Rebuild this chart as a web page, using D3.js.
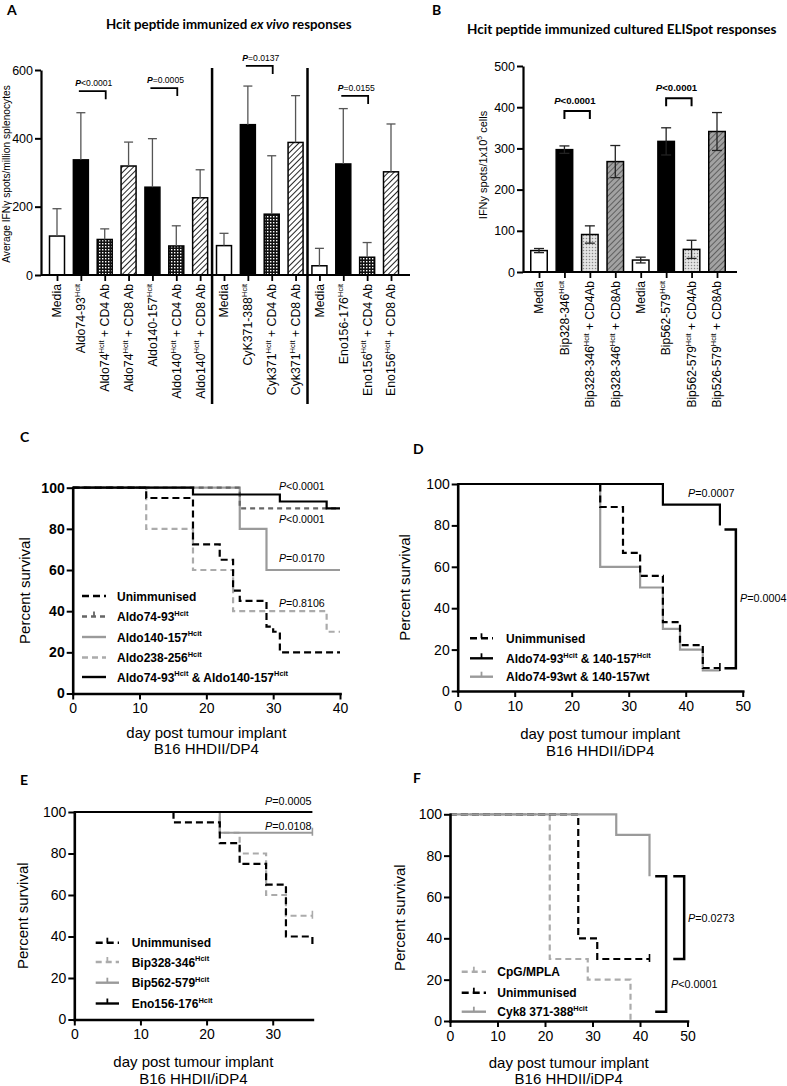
<!DOCTYPE html>
<html lang="en">
<head>
<meta charset="UTF-8">
<title>Hcit peptide responses and tumour survival</title>
<style>
  body { margin: 0; background: #fff; }
  svg { display: block; }
</style>
</head>
<body>
<svg id="fig" width="787" height="1086"></svg>
<script src="https://cdn.jsdelivr.net/npm/d3@7/dist/d3.min.js"></script>
<script>
// ---------- A: ex vivo ELISpot (spots / million splenocytes) ----------
const aLabels = ['Media', 'Aldo74-93^{Hcit}', 'Aldo74^{Hcit} + CD4 Ab', 'Aldo74^{Hcit} + CD8 Ab',
  'Aldo140-157^{Hcit}', 'Aldo140^{Hcit} + CD4 Ab', 'Aldo140^{Hcit} + CD8 Ab',
  'Media', 'CyK371-388^{Hcit}', 'Cyk371^{Hcit} + CD4 Ab', 'Cyk371^{Hcit} + CD8 Ab',
  'Media', 'Eno156-176^{Hcit}', 'Eno156^{Hcit} + CD4 Ab', 'Eno156^{Hcit} + CD8 Ab'];
const aKinds = ['media', 'hcit', 'cd4', 'cd8', 'hcit', 'cd4', 'cd8',
  'media', 'hcit', 'cd4', 'cd8', 'media', 'hcit', 'cd4', 'cd8'];
const aMeans = [114, 337, 104, 319, 257, 85, 226, 86, 440, 178, 388, 27, 325, 52, 302];
const aSD = [80, 138, 31, 70, 142, 59, 82, 36, 113, 171, 137, 51, 162, 43, 140];
const aTicks = [0, 200, 400, 600];
const aDividers = [6, 10];            // a line after these bars
const aPairs = [[1, 2], [4, 5], [8, 9], [12, 13]];
const aPvals = ['<0.0001', '=0.0005', '=0.0137', '=0.0155'];
const aLevels = [538, 547, 612, 524];

// ---------- B: cultured ELISpot (spots / 1x10^5 cells) ----------
const bLabels = ['Media', 'Bip328-346^{Hcit}', 'Bip328-346^{Hcit} + CD4Ab', 'Bip328-346^{Hcit} + CD8Ab',
  'Media', 'Bip562-579^{Hcit}', 'Bip562-579^{Hcit} + CD4Ab', 'Bip526-579^{Hcit} + CD8Ab'];
const bKinds = ['media', 'hcit', 'cd4', 'cd8', 'media', 'hcit', 'cd4', 'cd8'];
const bMeans = [52, 297, 91, 268, 29, 317, 55, 341];
const bSD = [5, 9, 21, 39, 7, 33, 22, 46];
const bTicks = [0, 100, 200, 300, 400, 500];
const bPairs = [[1, 2], [5, 6]];
const bPvals = ['<0.0001', '<0.0001'];
const bLevels = [391, 422];

// ---------- survival curves, [day, percent surviving] ----------
const survTicks = [0, 20, 40, 60, 80, 100];

const cUnimm = [[0, 100], [11, 95], [18, 72.5], [22, 65], [24, 50], [25, 45], [29, 32.5], [30, 30], [31, 20], [40, 20]];
const cAldo74 = [[0, 100], [25, 90], [40, 90]];
const cAldo140 = [[0, 100], [25, 80], [29, 60], [40, 60]];
const cAldo238 = [[0, 100], [11, 80], [18, 60], [24, 40], [38, 30], [40, 30]];
const cCombo = [[0, 100], [18, 96.7], [31, 93.3], [38, 90], [40, 90]];
const cPvals = ['<0.0001', '<0.0001', '=0.0170', '=0.8106'];

const dUnimm = [[0, 100], [25, 88.9], [29, 66.7], [32, 55.6], [36, 33.3], [39, 22.2], [43, 11.1], [46, 11.1]];
const dHcit = [[0, 100], [36, 90], [46, 80]];
const dWt = [[0, 100], [25, 60], [32, 50], [36, 30], [39, 20], [43, 10], [46, 10]];
const dPvals = ['=0.0007', '=0.0004'];

const eUnimm = [[0, 100], [15, 95], [22, 85], [25, 75], [29, 65], [32, 40], [36, 35]];
const eBip328 = [[0, 100], [22, 90], [25, 80], [29, 60], [32, 50], [36, 50]];
const eBip562 = [[0, 100], [22, 90], [36, 90]];
const eEno = [[0, 100], [36, 100]];
const ePvals = ['=0.0005', '=0.0108'];

const fCpg = [[0, 100], [21, 30], [29, 20], [38, 0]];
const fUnimm = [[0, 100], [27, 40], [31, 30], [42, 30]];
const fCyk = [[0, 100], [35, 90], [42, 70]];
const fPvals = ['=0.0273', '<0.0001'];

// ---------- drawing ----------
const FF = '"Liberation Sans", Arial, sans-serif';
const HF = 'Lato, "Open Sans", sans-serif';
const svg = d3.select('#fig');
svg.append('rect').attr('width', 787).attr('height', 1086).attr('fill', '#fff');

// fill patterns
const defs = svg.append('defs');
function pattern(id, size, bg, rot) {
  const p = defs.append('pattern').attr('id', id).attr('width', size).attr('height', size)
    .attr('patternUnits', 'userSpaceOnUse');
  if (rot) p.attr('patternTransform', 'rotate(' + rot + ')');
  p.append('rect').attr('width', size).attr('height', size).attr('fill', bg);
  return p;
}
pattern('chk', 3, '#111').append('rect').attr('width', 1.4).attr('height', 1.4).attr('fill', '#fff');
pattern('diag', 4, '#fff', 45).append('line')
  .attr('x1', 0).attr('y1', 0).attr('x2', 0).attr('y2', 4).attr('stroke', '#000').attr('stroke-width', 1.7);
pattern('dots', 3, '#e4e4e4').append('circle').attr('cx', 1.5).attr('cy', 1.5).attr('r', 0.75).attr('fill', '#888');
pattern('diagGray', 4, '#a2a2a2', 45).append('line')
  .attr('x1', 0).attr('y1', 0).attr('x2', 0).attr('y2', 4).attr('stroke', '#3a3a3a').attr('stroke-width', 1.3);

// text with ^{superscript} parts
function rich(t, str, fs) {
  const parts = str.split(/\^\{([^}]*)\}/);
  let up = false;
  parts.forEach((p, k) => {
    if (p === '') return;
    const ts = t.append('tspan').text(p);
    if (k % 2 === 1) {
      ts.attr('font-size', fs * 0.62).attr('dy', up ? 0 : -fs * 0.42);
      up = true;
    } else {
      ts.attr('font-size', fs).attr('dy', up ? fs * 0.42 : 0);
      up = false;
    }
  });
  return t;
}

function pText(x, y, s, fs, boldP, boldRest) {
  const t = svg.append('text').attr('x', x).attr('y', y)
    .attr('font-family', FF).attr('font-size', fs).attr('fill', '#000');
  t.append('tspan').attr('font-style', 'italic').attr('font-weight', boldP ? 'bold' : null).text('P');
  t.append('tspan').attr('font-weight', boldRest ? 'bold' : null).text(s);
}

function letter(s, x, y) {
  svg.append('text').attr('x', x).attr('y', y).attr('font-family', HF)
    .attr('font-weight', 'bold').attr('font-size', 14).text(s);
}

function barPanel(o) {
  const g = svg.append('g');
  const x = d3.scalePoint().domain(d3.range(o.means.length)).range(o.xr);
  const y = d3.scaleLinear().domain([0, o.ymax]).range(o.yr);

  g.selectAll('rect').data(o.means).join('rect')
    .attr('x', (d, i) => x(i) - o.bw / 2).attr('width', o.bw)
    .attr('y', d => y(d)).attr('height', d => y(0) - y(d))
    .attr('fill', (d, i) => o.fills[o.kinds[i]])
    .attr('stroke', '#000').attr('stroke-width', 1.5);

  o.sd.forEach((e, i) => {
    const m = o.means[i];
    const ends = o.both ? [m - e, m + e] : [m + e];
    g.append('line').attr('x1', x(i)).attr('x2', x(i))
      .attr('y1', y(o.both ? m - e : m)).attr('y2', y(m + e))
      .attr('stroke', o.errColor).attr('stroke-width', 1.3);
    ends.forEach(v => g.append('line').attr('x1', x(i) - o.cap).attr('x2', x(i) + o.cap)
      .attr('y1', y(v)).attr('y2', y(v)).attr('stroke', o.errColor).attr('stroke-width', 1.3));
  });

  const ya = g.append('g').attr('transform', `translate(${o.axisX},0)`)
    .call(d3.axisLeft(y).tickValues(o.ticks).tickSize(6).tickSizeOuter(0).tickPadding(2));
  ya.select('.domain').attr('stroke-width', 2.2);
  ya.selectAll('.tick line').attr('stroke-width', 2);
  ya.selectAll('text').attr('font-family', FF).attr('font-size', o.tfs).attr('fill', '#000');

  const xa = g.append('g').attr('transform', `translate(0,${y(0)})`)
    .call(d3.axisBottom(x).tickSize(6).tickFormat(''));
  xa.select('.domain').remove();
  xa.selectAll('.tick line').attr('stroke-width', 1.8);
  g.append('line').attr('x1', o.axisX).attr('x2', o.axisEnd).attr('y1', y(0)).attr('y2', y(0))
    .attr('stroke', '#000').attr('stroke-width', 2.2);

  o.labels.forEach((s, i) => {
    const t = g.append('text')
      .attr('transform', `translate(${x(i) + o.lfs * 0.36},${o.labY}) rotate(-90)`)
      .attr('text-anchor', 'end').attr('font-family', FF).attr('font-size', o.lfs);
    rich(t, s, o.lfs);
  });
  return { x, y, g };
}

// ---------- panel A ----------
letter('A', 7, 15);
const tA = svg.append('text').attr('x', 106).attr('y', 29).attr('font-family', HF)
  .attr('font-weight', 'bold').attr('font-size', 13.3);
tA.append('tspan').text('Hcit peptide immunized ');
tA.append('tspan').attr('font-style', 'italic').text('ex vivo');
tA.append('tspan').text(' responses');

const A = barPanel({
  means: aMeans, sd: aSD, kinds: aKinds, labels: aLabels, ticks: aTicks,
  xr: [57, 391], yr: [275, 70], ymax: 600, bw: 15, cap: 4.5, both: false,
  fills: { media: '#fff', hcit: '#000', cd4: 'url(#chk)', cd8: 'url(#diag)' },
  errColor: '#555', axisX: 41, axisEnd: 410, tfs: 12.5, lfs: 12.3, labY: 284
});
aDividers.forEach(i => {
  const xd = (A.x(i) + A.x(i + 1)) / 2;
  svg.append('line').attr('x1', xd).attr('x2', xd).attr('y1', 68).attr('y2', 404)
    .attr('stroke', '#000').attr('stroke-width', 2.5);
});
aPairs.forEach((p, k) => {
  const yb = A.y(aLevels[k]);
  const x0 = A.x(p[0]) - 2, x1 = A.x(p[1]) + 1;
  svg.append('path').attr('d', `M${x0},${yb}H${x1}V${yb + 8}`).attr('fill', 'none')
    .attr('stroke', '#000').attr('stroke-width', 1.8);
  pText(x0 - 3.5, yb - 5, aPvals[k], 8.6, true, false);
});
svg.append('text').attr('transform', 'translate(10,174) rotate(-90)').attr('text-anchor', 'middle')
  .attr('font-family', FF).attr('font-size', 10.2).text('Average IFNγ spots/million splenocytes');

// ---------- panel B ----------
letter('B', 432, 15);
svg.append('text').attr('x', 467).attr('y', 34).attr('font-family', HF)
  .attr('font-weight', 'bold').attr('font-size', 13.5).text('Hcit peptide immunized cultured ELISpot responses');

const B = barPanel({
  means: bMeans, sd: bSD, kinds: bKinds, labels: bLabels, ticks: bTicks,
  xr: [539, 717], yr: [272, 66], ymax: 500, bw: 16.5, cap: 5, both: true,
  fills: { media: '#fff', hcit: '#000', cd4: 'url(#dots)', cd8: 'url(#diagGray)' },
  errColor: '#222', axisX: 523, axisEnd: 737, tfs: 12.5, lfs: 12, labY: 281
});
bPairs.forEach((p, k) => {
  const yb = B.y(bLevels[k]);
  const x0 = B.x(p[0]), x1 = B.x(p[1]);
  svg.append('path').attr('d', `M${x0},${yb + 8}V${yb}H${x1}V${yb + 8}`).attr('fill', 'none')
    .attr('stroke', '#000').attr('stroke-width', 2);
  pText((x0 + x1) / 2 - 23, yb - 7, bPvals[k], 9.6, true, true);
});
const tB = svg.append('text').attr('transform', 'translate(487,165) rotate(-90)').attr('text-anchor', 'middle')
  .attr('font-family', FF).attr('font-size', 11);
rich(tB, 'IFNy spots/1x10^{5} cells', 11);

// ---------- survival panels ----------
const sty = {
  black: { color: '#000' },
  blackDash: { color: '#000', dash: '7,4' },
  gray: { color: '#9a9a9a' },
  lightDash: { color: '#ababab', dash: '6,4' },
  darkDash: { color: '#666', dash: '5,4' }
};

function survPanel(o) {
  const g = svg.append('g');
  const x = d3.scaleLinear().domain([0, o.tMax]).range([o.left, o.right]);
  const y = d3.scaleLinear().domain([0, 100]).range([o.bottom, o.top]);
  const line = d3.line().x(d => x(d[0])).y(d => y(d[1])).curve(d3.curveStepAfter);

  o.curves.forEach(c => {
    const s = sty[c.style];
    g.append('path').attr('d', line(c.data)).attr('fill', 'none')
      .attr('stroke', s.color).attr('stroke-width', 2.2).attr('stroke-dasharray', s.dash || null);
    (c.censor || []).forEach(t => {
      const v = c.data.filter(d => d[0] <= t).pop()[1];
      g.append('line').attr('x1', x(t)).attr('x2', x(t)).attr('y1', y(v) - 5).attr('y2', y(v) + 3)
        .attr('stroke', s.color).attr('stroke-width', 1.6);
    });
  });

  const ya = g.append('g').attr('transform', `translate(${o.left},0)`)
    .call(d3.axisLeft(y).tickValues(survTicks).tickSize(6).tickSizeOuter(0).tickPadding(2));
  const xa = g.append('g').attr('transform', `translate(0,${o.bottom})`)
    .call(d3.axisBottom(x).tickValues(o.xTicks).tickSize(6).tickSizeOuter(0).tickPadding(4));
  [ya, xa].forEach(a => {
    a.select('.domain').attr('stroke-width', 2.6).attr('stroke-linecap', 'square');
    a.selectAll('.tick line').attr('stroke-width', 2);
    a.selectAll('text').attr('font-family', FF).attr('font-size', 14).attr('fill', '#000');
  });
  if (o.boldY) ya.selectAll('text').attr('font-weight', 'bold');

  const cx = (o.left + o.right) / 2;
  g.append('text').attr('x', cx).attr('y', o.bottom + o.t1).attr('text-anchor', 'middle')
    .attr('font-family', FF).attr('font-size', 15).text('day post tumour implant');
  g.append('text').attr('x', cx).attr('y', o.bottom + o.t2).attr('text-anchor', 'middle')
    .attr('font-family', FF).attr('font-size', 15).text(o.model);
  g.append('text').attr('transform', `translate(${o.ylabX},${(o.top + o.bottom) / 2}) rotate(-90)`)
    .attr('text-anchor', 'middle').attr('font-family', FF).attr('font-size', 15).text('Percent survival');

  o.legend.forEach((it, k) => {
    const s = sty[it.style];
    const ly = o.legY[k];
    g.append('line').attr('x1', o.legX[0]).attr('x2', o.legX[1]).attr('y1', ly).attr('y2', ly)
      .attr('stroke', s.color).attr('stroke-width', 2.4).attr('stroke-dasharray', s.dash || null);
    if (it.tick) {
      const mx = (o.legX[0] + o.legX[1]) / 2;
      g.append('line').attr('x1', mx).attr('x2', mx).attr('y1', ly - 5).attr('y2', ly)
        .attr('stroke', s.color).attr('stroke-width', 1.8);
    }
    const t = g.append('text').attr('x', o.legX[2]).attr('y', ly + 4.5)
      .attr('font-family', FF).attr('font-weight', 'bold').attr('font-size', 12);
    rich(t, it.label, 12);
  });

  (o.brackets || []).forEach(b => {
    g.append('path').attr('d', `M${x(b.arm)},${y(b.hi)}H${x(b.t)}V${y(b.lo)}H${x(b.arm)}`)
      .attr('fill', 'none').attr('stroke', '#000').attr('stroke-width', 2.5);
  });
  return { x, y };
}

// C
letter('C', 20, 442);
survPanel({
  left: 72.7, right: 340, tMax: 40, bottom: 693.5, top: 487.7, xTicks: [0, 10, 20, 30, 40], boldY: true,
  t1: 44, t2: 60.5, ylabX: 30, model: 'B16 HHDII/DP4',
  curves: [
    { data: cAldo140, style: 'gray' },
    { data: cAldo238, style: 'lightDash' },
    { data: cAldo74, style: 'darkDash' },
    { data: cUnimm, style: 'blackDash' },
    { data: cCombo, style: 'black' }
  ],
  legX: [82, 106, 117], legY: [596, 616.5, 637, 657.5, 677],
  legend: [
    { label: 'Unimmunised', style: 'blackDash' },
    { label: 'Aldo74-93^{Hcit}', style: 'darkDash', tick: true },
    { label: 'Aldo140-157^{Hcit}', style: 'gray' },
    { label: 'Aldo238-256^{Hcit}', style: 'lightDash' },
    { label: 'Aldo74-93^{Hcit} & Aldo140-157^{Hcit}', style: 'black' }
  ]
});
[490, 522.5, 562, 606.5].forEach((yy, k) => pText(279, yy, cPvals[k], 10.6));

// D
letter('D', 413, 454);
survPanel({
  left: 457.7, right: 742.7, tMax: 50, bottom: 691, top: 484, xTicks: [0, 10, 20, 30, 40, 50],
  t1: 47.7, t2: 65, ylabX: 410, model: 'B16 HHDII/iDP4',
  curves: [
    { data: dWt, style: 'gray' },
    { data: dUnimm, style: 'blackDash', censor: [46] },
    { data: dHcit, style: 'black' }
  ],
  legX: [470, 493, 506], legY: [638.3, 658.3, 676.7],
  legend: [
    { label: 'Unimmunised', style: 'blackDash', tick: true },
    { label: 'Aldo74-93^{Hcit} & 140-157^{Hcit}', style: 'black', tick: true },
    { label: 'Aldo74-93wt & 140-157wt', style: 'gray', tick: true }
  ],
  brackets: [{ t: 48.8, arm: 46.8, hi: 78, lo: 11 }]
});
pText(688, 497, dPvals[0], 10.8);
pText(740, 601.5, dPvals[1], 10.8);

// E
letter('E', 20, 785);
survPanel({
  left: 74.3, right: 312.4, tMax: 36, bottom: 1019.5, top: 812, xTicks: [0, 10, 20, 30],
  t1: 47.5, t2: 64, ylabX: 28, model: 'B16 HHDII/iDP4',
  curves: [
    { data: eBip328, style: 'lightDash', censor: [36] },
    { data: eBip562, style: 'gray', censor: [36] },
    { data: eUnimm, style: 'blackDash' },
    { data: eEno, style: 'black' }
  ],
  legX: [95.7, 119, 131.7], legY: [942.7, 962, 982.7, 1003.5],
  legend: [
    { label: 'Unimmunised', style: 'blackDash', tick: true },
    { label: 'Bip328-346^{Hcit}', style: 'lightDash', tick: true },
    { label: 'Bip562-579^{Hcit}', style: 'gray', tick: true },
    { label: 'Eno156-176^{Hcit}', style: 'black', tick: true }
  ]
});
pText(265, 805, ePvals[0], 10.8);
pText(265, 830, ePvals[1], 10.8);

// F
letter('F', 413, 783);
survPanel({
  left: 450, right: 687.5, tMax: 50, bottom: 1021, top: 814.3, xTicks: [0, 10, 20, 30, 40, 50],
  t1: 47, t2: 63, ylabX: 405, model: 'B16 HHDII/iDP4',
  curves: [
    { data: fCpg, style: 'lightDash' },
    { data: fUnimm, style: 'blackDash', censor: [42] },
    { data: fCyk, style: 'gray' }
  ],
  legX: [461.7, 486, 497.3], legY: [971.7, 992.7, 1011.7],
  legend: [
    { label: 'CpG/MPLA', style: 'lightDash', tick: true },
    { label: 'Unimmunised', style: 'blackDash', tick: true },
    { label: 'Cyk8 371-388^{Hcit}', style: 'gray', tick: true }
  ],
  brackets: [{ t: 45.5, arm: 43.2, hi: 70, lo: 4.5 }, { t: 49.3, arm: 47, hi: 70, lo: 30 }]
});
pText(688, 921.5, fPvals[0], 10.8);
pText(671, 988, fPvals[1], 10.8);
</script>
</body>
</html>
